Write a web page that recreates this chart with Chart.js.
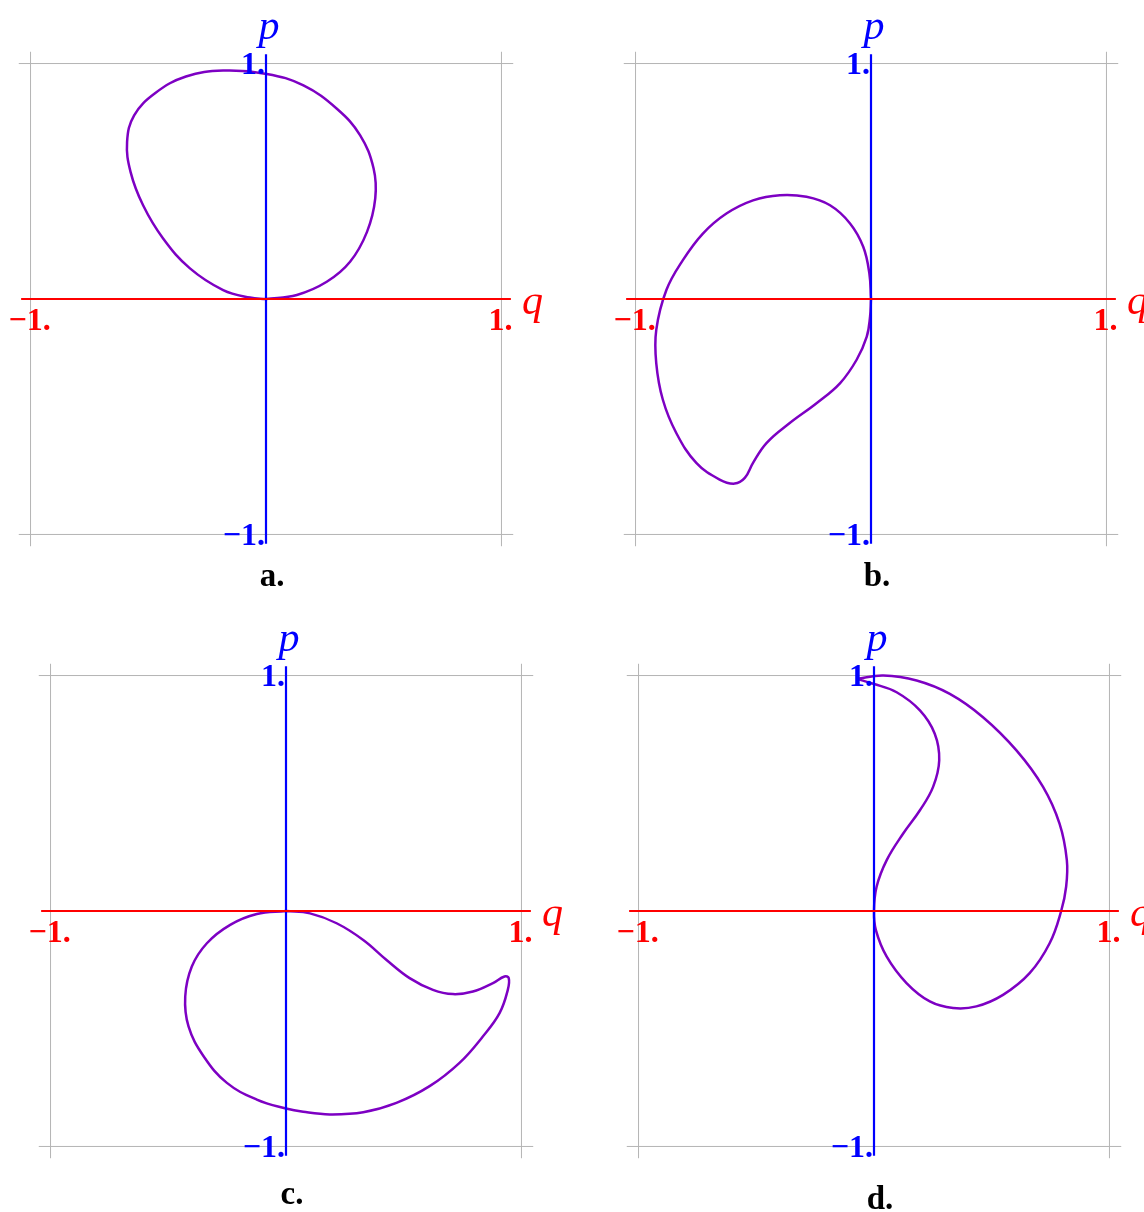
<!DOCTYPE html>
<html>
<head>
<meta charset="utf-8">
<script src="https://cdn.jsdelivr.net/npm/chart.js@4.4.0/dist/chart.umd.min.js"></script>
<style>
  html, body { margin: 0; padding: 0; background: #fff; overflow: hidden; }
  body { width: 1144px; height: 1212px; position: relative; }
  canvas { position: absolute; }
</style>
</head>
<body>
<canvas id="panelA" width="572" height="620"></canvas>
<canvas id="panelB" width="572" height="620"></canvas>
<canvas id="panelC" width="572" height="620"></canvas>
<canvas id="panelD" width="572" height="620"></canvas>
<script>
// phase-space curves, [q, p] pairs
var curveA = [[0,0],[0.131,0.017],[0.258,0.073],[0.357,0.158],[0.429,0.285],[0.464,0.427],[0.457,0.554],
  [0.400,0.695],[0.301,0.808],[0.159,0.907],[0.003,0.956],[-0.182,0.970],[-0.340,0.945],[-0.470,0.875],
  [-0.560,0.780],[-0.590,0.667],[-0.575,0.539],[-0.522,0.398],[-0.437,0.257],[-0.323,0.130],
  [-0.182,0.038],[-0.068,0.006],[0,0]];
var curveB = [[0,0],[-0.007,0.109],[-0.033,0.222],[-0.089,0.321],[-0.174,0.398],[-0.274,0.434],
  [-0.387,0.441],[-0.501,0.419],[-0.614,0.363],[-0.714,0.278],[-0.799,0.165],[-0.869,0.038],
  [-0.912,-0.131],[-0.912,-0.273],[-0.884,-0.428],[-0.827,-0.569],[-0.742,-0.696],[-0.643,-0.767],
  [-0.579,-0.784],[-0.536,-0.760],[-0.501,-0.696],[-0.443,-0.611],[-0.345,-0.527],[-0.230,-0.442],
  [-0.131,-0.357],[-0.061,-0.258],[-0.018,-0.160],[-0.004,-0.075],[0,0]];
var curveC = [[0,0],[0.102,-0.010],[0.215,-0.052],[0.328,-0.123],[0.427,-0.208],[0.525,-0.285],
  [0.624,-0.335],[0.709,-0.353],[0.794,-0.342],[0.879,-0.306],[0.928,-0.278],[0.946,-0.285],
  [0.942,-0.335],[0.907,-0.434],[0.836,-0.533],[0.737,-0.645],[0.610,-0.744],[0.469,-0.815],
  [0.328,-0.855],[0.186,-0.864],[0.073,-0.853],[0,-0.839],[-0.124,-0.801],[-0.251,-0.730],
  [-0.350,-0.617],[-0.414,-0.490],[-0.428,-0.363],[-0.400,-0.236],[-0.336,-0.137],[-0.237,-0.059],
  [-0.124,-0.013],[0,0]];
var curveD = [[-0.073,0.986],[0.040,1.000],[0.181,0.979],[0.322,0.922],[0.463,0.823],[0.605,0.682],
  [0.718,0.527],[0.788,0.371],[0.819,0.216],[0.816,0.103],[0.795,0],[0.746,-0.137],[0.661,-0.264],
  [0.548,-0.356],[0.435,-0.405],[0.336,-0.412],[0.237,-0.384],[0.138,-0.306],[0.054,-0.194],
  [0.008,-0.081],[0,0],[0.011,0.103],[0.054,0.216],[0.124,0.329],[0.195,0.428],[0.251,0.527],
  [0.277,0.640],[0.258,0.753],[0.195,0.852],[0.096,0.929],[-0.003,0.965],[-0.073,0.986]];

var tickValues = [-1, 1];
var tickLabels = ['\u22121.', '1.'];
var captions = ['a.', 'b.', 'c.', 'd.'];
var axisReach = 1.04;   // red/blue axes run a bit past +-1
var frameReach = 1.05;  // gray frame lines overshoot the corners

// where each panel sits on the page
var panels = [
  { id: 'panelA', curve: curveA, left: -20, top: 0,   captionGap: 43 },
  { id: 'panelB', curve: curveB, left: 585, top: 0,   captionGap: 43 },
  { id: 'panelC', curve: curveC, left: 0,   top: 612, captionGap: 49 },
  { id: 'panelD', curve: curveD, left: 588, top: 612, captionGap: 54 }
];

function toXY(pairs) {
  return pairs.map(function(d) { return { x: d[0], y: d[1] }; });
}

function seg(a, b, color, width) {
  return { data: [a, b], borderColor: color, borderWidth: width, showLine: true,
           pointRadius: 0, tension: 0, fill: false };
}

var labelPlugin = {
  id: 'phaseLabels',
  afterDatasetsDraw: function(chart) {
    var ctx = chart.ctx;
    var xs = chart.scales.x, ys = chart.scales.y;
    var x0 = xs.getPixelForValue(0), y0 = ys.getPixelForValue(0);
    var opts = chart.options.plugins.phaseLabels;
    ctx.save();
    ctx.font = 'bold 32px "Liberation Serif", "Times New Roman", serif';
    // q ticks
    ctx.fillStyle = '#ff0000';
    ctx.textAlign = 'center';
    ctx.textBaseline = 'middle';
    tickValues.forEach(function(v, i) {
      ctx.fillText(tickLabels[i], xs.getPixelForValue(v) - 1, y0 + 23);
    });
    // p ticks
    ctx.fillStyle = '#0000ff';
    ctx.textAlign = 'right';
    tickValues.forEach(function(v, i) {
      ctx.fillText(tickLabels[i], x0 - 1, ys.getPixelForValue(v) + 2);
    });
    // axis names
    ctx.font = 'italic 42px "Liberation Serif", "DejaVu Serif", serif';
    ctx.textAlign = 'center';
    ctx.fillStyle = '#0000ff';
    ctx.fillText('p', x0 + 3, ys.getPixelForValue(1) - 36);
    ctx.fillStyle = '#ff0000';
    ctx.fillText('q', xs.getPixelForValue(1) + 31, y0 + 4);
    // caption
    ctx.font = 'bold 33px "Liberation Serif", "Times New Roman", serif';
    ctx.fillStyle = '#000';
    ctx.fillText(opts.caption, x0 + 6, ys.getPixelForValue(-1) + opts.gap);
    ctx.restore();
  }
};

panels.forEach(function(panel, i) {
  var el = document.getElementById(panel.id);
  el.style.left = panel.left + 'px';
  el.style.top = panel.top + 'px';
  var gray = '#b4b4b4';
  var datasets = [
    seg({ x: -axisReach, y: 0 }, { x: axisReach, y: 0 }, '#ff0000', 2.2),
    seg({ x: 0, y: -axisReach }, { x: 0, y: axisReach }, '#0000ff', 2.2),
    { data: toXY(panel.curve), borderColor: '#7d00c3', borderWidth: 2.5, showLine: true,
      pointRadius: 0, tension: 0.4, fill: false },
    seg({ x: -frameReach, y: 1 }, { x: frameReach, y: 1 }, gray, 1),
    seg({ x: -frameReach, y: -1 }, { x: frameReach, y: -1 }, gray, 1),
    seg({ x: -1, y: -frameReach }, { x: -1, y: frameReach }, gray, 1),
    seg({ x: 1, y: -frameReach }, { x: 1, y: frameReach }, gray, 1)
  ];
  new Chart(el.getContext('2d'), {
    type: 'scatter',
    data: { datasets: datasets },
    options: {
      responsive: false,
      animation: false,
      layout: { padding: { left: 27, right: 27, top: 40, bottom: 62 } },
      scales: {
        x: { type: 'linear', min: -1.1, max: 1.1, display: false },
        y: { type: 'linear', min: -1.1, max: 1.1, display: false }
      },
      plugins: {
        legend: { display: false },
        tooltip: { enabled: false },
        phaseLabels: { caption: captions[i], gap: panel.captionGap }
      }
    },
    plugins: [labelPlugin]
  });
});
</script>
</body>
</html>
